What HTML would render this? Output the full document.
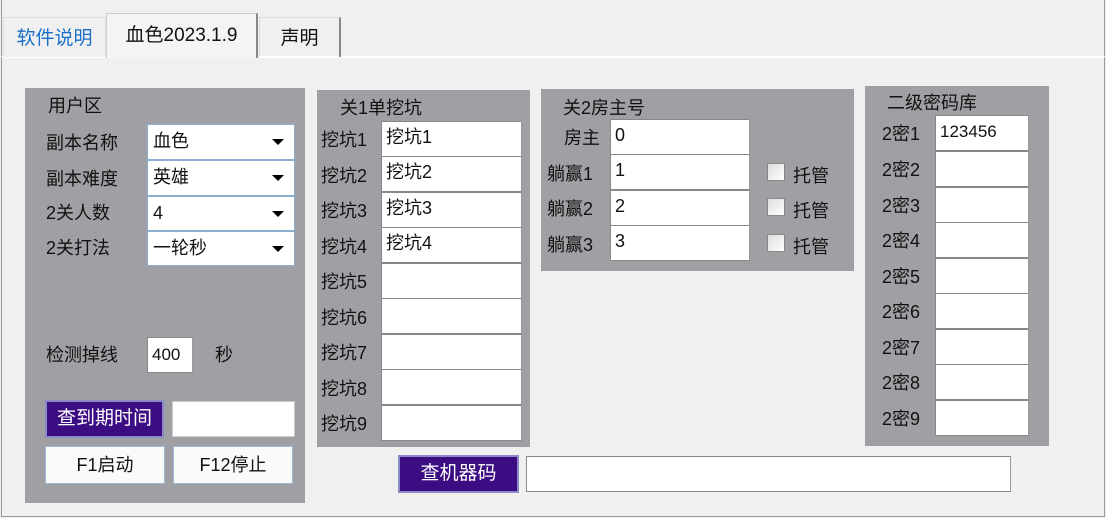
<!DOCTYPE html>
<html><head><meta charset="utf-8"><style>
*{box-sizing:border-box;margin:0;padding:0}
body{width:1106px;height:518px;background:#f0f0f0;position:relative;overflow:hidden;font-family:"Liberation Sans","Noto Sans CJK SC",sans-serif;font-size:18px;color:#111}
.a{position:absolute}
.p{position:absolute;background:#a0a0a4}
.in{position:absolute;background:#fff;border:1px solid #888;border-right-color:#999;padding-left:4px;line-height:31px;font-size:18px}
.cb{position:absolute;background:#fff;border:1px solid #8aaed0;padding-left:5px;line-height:33px}
.cb:after{content:"";position:absolute;right:10px;top:14px;border-left:6px solid transparent;border-right:6px solid transparent;border-top:6px solid #000}
.lb{position:absolute;white-space:nowrap}
.pb{position:absolute;background:#3c0c82;color:#fff;border:2px solid #8a8ac8;text-align:center;line-height:33px;font-size:19px}
.bt{position:absolute;background:#fafafa;border:1px solid #9bbad8;text-align:center;line-height:36px}
.ck{position:absolute;width:18px;height:18px;border:1px solid #888;background:linear-gradient(135deg,#ddd,#fff)}
.tab{position:absolute;border:1px solid #aaa;border-bottom:none;text-align:center;font-size:19px}
</style></head><body>
<div class="a" style="left:1px;top:56px;width:1104px;height:461px;border:1px solid #999;border-top:2px solid #fff;background:#f0f0f0"></div>
<div class="a" style="left:1px;top:0;width:1px;height:56px;background:#999"></div>
<div class="a" style="left:1104px;top:0;width:1px;height:56px;background:#999"></div>
<div class="tab" style="left:3px;top:17px;width:103px;height:40px;line-height:42px;color:#1a6fc8;background:#f0f0f0;border-color:#ddd">软件说明</div>
<div class="tab" style="left:106px;top:13px;width:152px;height:45px;line-height:44px;background:#f4f4f4;border-color:#ccc;border-right:2px solid #888">血色2023.1.9</div>
<div class="tab" style="left:259px;top:17px;width:82px;height:40px;line-height:42px;border-right:2px solid #888;border-color:#ddd #888 #888 #ddd">声明</div>

<div class="p" style="left:25px;top:88px;width:280px;height:415px"></div>
<div class="lb" style="left:48px;top:92px">用户区</div>
<div class="lb" style="left:46px;top:129px">副本名称</div>
<div class="lb" style="left:46px;top:165px">副本难度</div>
<div class="lb" style="left:46px;top:199px">2关人数</div>
<div class="lb" style="left:46px;top:234px">2关打法</div>
<div class="cb" style="left:147px;top:124px;width:148px;height:36px">血色</div>
<div class="cb" style="left:147px;top:160px;width:148px;height:36px">英雄</div>
<div class="cb" style="left:147px;top:196px;width:148px;height:35px">4</div>
<div class="cb" style="left:147px;top:231px;width:148px;height:35px">一轮秒</div>
<div class="lb" style="left:46px;top:341px">检测掉线</div>
<div class="in" style="left:147px;top:337px;width:46px;height:36px;line-height:34px;font-size:17px">400</div>
<div class="lb" style="left:215px;top:341px">秒</div>
<div class="pb" style="left:45px;top:400px;width:119px;height:38px">查到期时间</div>
<div class="in" style="left:172px;top:401px;width:123px;height:36px;border-color:#ccc"></div>
<div class="bt" style="left:45px;top:446px;width:120px;height:38px">F1启动</div>
<div class="bt" style="left:173px;top:446px;width:120px;height:38px">F12停止</div>

<div class="p" style="left:317px;top:90px;width:213px;height:357px"></div>
<div class="lb" style="left:340px;top:94px">关1单挖坑</div>
<div class="lb" style="left:321px;top:126px">挖坑1</div><div class="in" style="left:381px;top:121px;width:141px;height:36px">挖坑1</div>
<div class="lb" style="left:321px;top:162px">挖坑2</div><div class="in" style="left:381px;top:156px;width:141px;height:36px">挖坑2</div>
<div class="lb" style="left:321px;top:197px">挖坑3</div><div class="in" style="left:381px;top:192px;width:141px;height:36px">挖坑3</div>
<div class="lb" style="left:321px;top:233px">挖坑4</div><div class="in" style="left:381px;top:227px;width:141px;height:36px">挖坑4</div>
<div class="lb" style="left:321px;top:268px">挖坑5</div><div class="in" style="left:381px;top:263px;width:141px;height:36px"></div>
<div class="lb" style="left:321px;top:304px">挖坑6</div><div class="in" style="left:381px;top:298px;width:141px;height:36px"></div>
<div class="lb" style="left:321px;top:339px">挖坑7</div><div class="in" style="left:381px;top:334px;width:141px;height:36px"></div>
<div class="lb" style="left:321px;top:375px">挖坑8</div><div class="in" style="left:381px;top:369px;width:141px;height:36px"></div>
<div class="lb" style="left:321px;top:410px">挖坑9</div><div class="in" style="left:381px;top:405px;width:141px;height:36px"></div>

<div class="p" style="left:541px;top:89px;width:313px;height:182px"></div>
<div class="lb" style="left:563px;top:94px">关2房主号</div>
<div class="lb" style="left:564px;top:124px">房主</div><div class="in" style="left:610px;top:119px;width:140px;height:36px">0</div>
<div class="lb" style="left:547px;top:160px">躺赢1</div><div class="in" style="left:610px;top:154px;width:140px;height:36px">1</div>
<div class="lb" style="left:547px;top:195px">躺赢2</div><div class="in" style="left:610px;top:190px;width:140px;height:36px">2</div>
<div class="lb" style="left:547px;top:231px">躺赢3</div><div class="in" style="left:610px;top:225px;width:140px;height:36px">3</div>
<div class="ck" style="left:767px;top:163px"></div><div class="lb" style="left:793px;top:162px">托管</div>
<div class="ck" style="left:767px;top:198px"></div><div class="lb" style="left:793px;top:197px">托管</div>
<div class="ck" style="left:767px;top:234px"></div><div class="lb" style="left:793px;top:233px">托管</div>

<div class="p" style="left:865px;top:86px;width:184px;height:360px"></div>
<div class="lb" style="left:887px;top:89px">二级密码库</div>
<div class="lb" style="left:882px;top:120px">2密1</div><div class="in" style="left:935px;top:115px;width:94px;height:36px;font-size:17px">123456</div>
<div class="lb" style="left:882px;top:156px">2密2</div><div class="in" style="left:935px;top:151px;width:94px;height:36px"></div>
<div class="lb" style="left:882px;top:192px">2密3</div><div class="in" style="left:935px;top:187px;width:94px;height:36px"></div>
<div class="lb" style="left:882px;top:227px">2密4</div><div class="in" style="left:935px;top:222px;width:94px;height:36px"></div>
<div class="lb" style="left:882px;top:263px">2密5</div><div class="in" style="left:935px;top:258px;width:94px;height:36px"></div>
<div class="lb" style="left:882px;top:298px">2密6</div><div class="in" style="left:935px;top:293px;width:94px;height:36px"></div>
<div class="lb" style="left:882px;top:334px">2密7</div><div class="in" style="left:935px;top:329px;width:94px;height:36px"></div>
<div class="lb" style="left:882px;top:369px">2密8</div><div class="in" style="left:935px;top:364px;width:94px;height:36px"></div>
<div class="lb" style="left:882px;top:405px">2密9</div><div class="in" style="left:935px;top:400px;width:94px;height:36px"></div>

<div class="pb" style="left:398px;top:455px;width:121px;height:38px">查机器码</div>
<div class="in" style="left:526px;top:456px;width:485px;height:36px"></div>
</body></html>
